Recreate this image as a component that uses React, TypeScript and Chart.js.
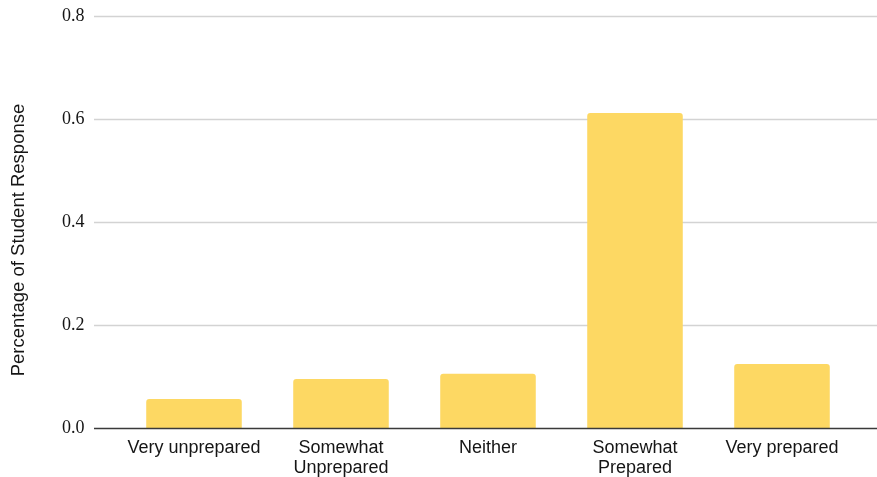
import React, { useEffect, useRef } from "react";
import { Chart, registerables } from "chart.js";

Chart.register(...registerables);

const categories: (string | string[])[] = [
  "Very unprepared",
  ["Somewhat", "Unprepared"],
  "Neither",
  ["Somewhat", "Prepared"],
  "Very prepared",
];
const values: number[] = [0.057, 0.096, 0.106, 0.612, 0.125];
const yTicks: number[] = [0, 0.2, 0.4, 0.6, 0.8];
const yTitle = "Percentage of Student Response";

const BAR_COLOR = "#FDD863";

export default function App() {
  const ref = useRef<HTMLCanvasElement | null>(null);

  useEffect(() => {
    document.body.style.margin = "0";
    const canvas = ref.current;
    if (!canvas) return;

    const customGrid = {
      id: "customGrid",
      beforeDatasetsDraw(chart: any) {
        const { ctx } = chart;
        const y = chart.scales.y;
        ctx.save();
        ctx.strokeStyle = "#d3d3d3";
        ctx.lineWidth = 1.3;
        yTicks.forEach((t) => {
          if (t === 0) return;
          const py = Math.round(y.getPixelForValue(t)) + 0.5;
          ctx.beginPath();
          ctx.moveTo(94, py);
          ctx.lineTo(877, py);
          ctx.stroke();
        });
        ctx.restore();
      },
      afterDatasetsDraw(chart: any) {
        const { ctx } = chart;
        const y = chart.scales.y;
        ctx.save();
        ctx.strokeStyle = "#3a3a3a";
        ctx.lineWidth = 1.5;
        const py = y.getPixelForValue(0);
        ctx.beginPath();
        ctx.moveTo(94, py);
        ctx.lineTo(877, py);
        ctx.stroke();
        // y-axis title
        ctx.translate(19, 240);
        ctx.rotate(-Math.PI / 2);
        ctx.fillStyle = "#151515";
        ctx.font = "18.5px 'Liberation Sans', Arial, sans-serif";
        ctx.textAlign = "center";
        ctx.textBaseline = "middle";
        ctx.fillText(yTitle, 0, 0);
        ctx.restore();
      },
    };

    const chart = new Chart(canvas, {
      type: "bar",
      data: {
        labels: categories,
        datasets: [
          {
            data: values,
            backgroundColor: BAR_COLOR,
            borderRadius: { topLeft: 3, topRight: 3, bottomLeft: 0, bottomRight: 0 },
            borderSkipped: "bottom",
            categoryPercentage: 1,
            barPercentage: 0.65,
          },
        ],
      },
      options: {
        responsive: false,
        animation: false,
        devicePixelRatio: 1,
        layout: { padding: { top: 16, right: 21.5, left: 0, bottom: 0 } },
        plugins: { legend: { display: false }, tooltip: { enabled: false }, title: { display: false } },
        scales: {
          x: {
            grid: { display: false, drawTicks: false },
            border: { display: false },
            ticks: {
              color: "#151515",
              font: { family: "'Liberation Sans', Arial, sans-serif", size: 18, lineHeight: 1.12 },
              padding: 9,
              maxRotation: 0,
              autoSkip: false,
            },
            afterFit(scale: any) {
              scale.height = 48.5;
              scale.paddingLeft = 0;
              scale.paddingRight = 0;
              scale.paddingTop = 0;
              scale.paddingBottom = 0;
            },
          },
          y: {
            min: 0,
            max: 0.8,
            afterBuildTicks(scale: any) {
              scale.ticks = yTicks.map((v) => ({ value: v }));
            },
            grid: { display: false, drawTicks: false },
            border: { display: false },
            ticks: {
              color: "#151515",
              font: { family: "'Liberation Serif', 'Times New Roman', serif", size: 18 },
              padding: 36,
              callback: (v: any) => Number(v).toFixed(1),
            },
            afterFit(scale: any) {
              scale.width = 120.5;
              scale.paddingLeft = 0;
              scale.paddingRight = 0;
              scale.paddingTop = 0;
              scale.paddingBottom = 0;
            },
          },
        },
      },
      plugins: [customGrid],
    });
    return () => chart.destroy();
  }, []);

  return (
    <div style={{ position: "fixed", left: 0, top: 0, width: 877, height: 477, background: "#fff" }}>
      <canvas ref={ref} width={877} height={477} style={{ display: "block", width: 877, height: 477 }} />
    </div>
  );
}
